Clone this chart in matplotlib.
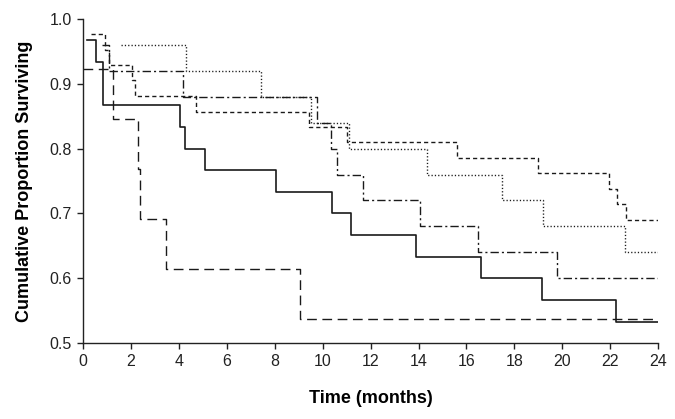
import matplotlib
matplotlib.use("Agg")
import matplotlib.pyplot as plt

plt.rcParams['font.family'] = ['Liberation Sans', 'DejaVu Sans']

# Kaplan-Meier steps (time in months, proportion surviving after the step)
solid_t = [0.17, 0.54, 0.82, 4.05, 4.26, 5.09, 8.05, 10.37, 11.2, 13.9, 16.6, 19.14, 22.25, 24]
solid_s = [0.967, 0.933, 0.867, 0.833, 0.800, 0.767, 0.733, 0.700, 0.667, 0.633, 0.600, 0.567, 0.533, 0.533]

longdash_t = [0.0, 1.27, 2.31, 2.38, 3.46, 9.06, 24]
longdash_s = [0.923, 0.846, 0.769, 0.692, 0.615, 0.538, 0.538]

shortdash_t = [0.33, 0.92, 1.1, 2.03, 2.17, 4.72, 9.44, 11.0, 15.6, 19.0, 21.95, 22.27, 22.66, 24]
shortdash_s = [0.976, 0.952, 0.929, 0.905, 0.881, 0.857, 0.833, 0.810, 0.786, 0.762, 0.738, 0.714, 0.690, 0.690]

dotted_t = [1.6, 4.3, 7.42, 9.5, 11.12, 14.34, 17.47, 19.2, 22.6, 24]
dotted_s = [0.96, 0.92, 0.88, 0.84, 0.80, 0.76, 0.72, 0.68, 0.64, 0.64]

dashdot_t = [0.8, 1.1, 4.19, 9.75, 10.34, 10.59, 11.7, 14.07, 16.5, 19.8, 24]
dashdot_s = [0.96, 0.92, 0.88, 0.84, 0.80, 0.76, 0.72, 0.68, 0.64, 0.60, 0.60]

fig = plt.figure(figsize=(6.75, 4.19), dpi=100)
ax = fig.add_axes([0.123, 0.181, 0.852, 0.774])

col = '#1a1a1a'
ax.step(solid_t, solid_s, where='post', color=col, lw=1.2)
ax.step(longdash_t, longdash_s, where='post', color=col, lw=1.0, dashes=(7, 4))
ax.step(shortdash_t, shortdash_s, where='post', color=col, lw=1.0, dashes=(3, 2.2))
ax.step(dotted_t, dotted_s, where='post', color=col, lw=1.0, dashes=(0.9, 1.5))
ax.step(dashdot_t, dashdot_s, where='post', color=col, lw=1.0, dashes=(6, 2.2, 1.5, 2.2))

ax.set_xlim(0, 24)
ax.set_ylim(0.5, 1.0)
ax.set_xticks(range(0, 25, 2))
ax.set_yticks([0.5, 0.6, 0.7, 0.8, 0.9, 1.0])
ax.set_yticklabels(['0.5', '0.6', '0.7', '0.8', '0.9', '1.0'])

for s in ['top', 'right']:
    ax.spines[s].set_visible(False)
for s in ['left', 'bottom']:
    ax.spines[s].set_linewidth(1.0)
    ax.spines[s].set_color('#222222')
ax.tick_params(direction='out', length=4, width=1, labelsize=11.5, colors='#222222', pad=4)

ax.set_xlabel('Time (months)', fontsize=13, fontweight='bold', labelpad=15)
ax.set_ylabel('Cumulative Proportion Surviving', fontsize=13, fontweight='bold', labelpad=12)

fig.savefig('out.png', dpi=100)
